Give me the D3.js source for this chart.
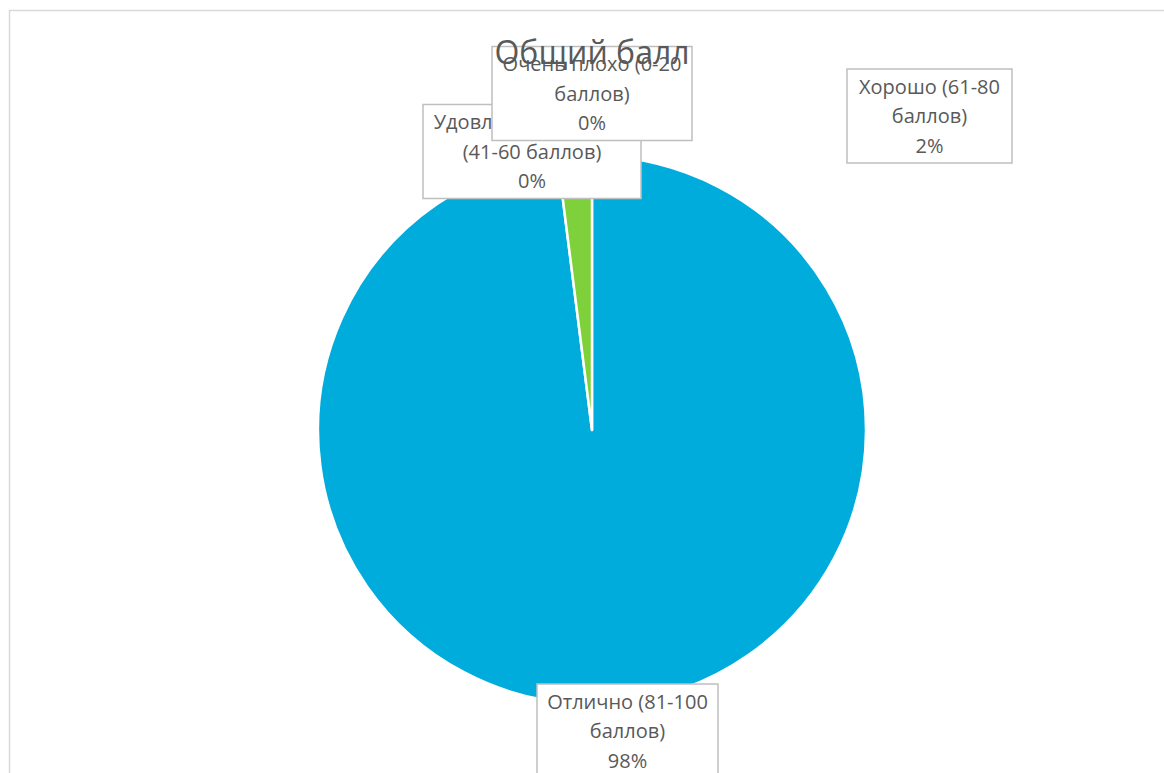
<!DOCTYPE html>
<html><head><meta charset="utf-8">
<script src="https://cdn.jsdelivr.net/npm/d3@7"></script>
<style>body{margin:0;background:#fff}svg{display:block}</style>
</head><body>
<svg id="c" width="1164" height="773"></svg>
<script>
const title = "Общий балл";
const categories = ["Отлично (81-100 баллов)", "Хорошо (61-80 баллов)", "Удовлетворительно (41-60 баллов)", "Очень плохо (0-20 баллов)"];
const labelLines = [["Отлично (81-100", "баллов)"], ["Хорошо (61-80", "баллов)"], ["Удовлетворительно", "(41-60 баллов)"], ["Очень плохо (0-20", "баллов)"]];
const values = [98, 2, 0, 0];
const colors = ["#00acdc", "#7fd13b", "#9d90a0", "#f0a22e"];
// label box layout relative to pie centre (layout only)
const labelLayout = [{dx: 35.5, dy: 301, w: 181}, {dx: 337.5, dy: -314, w: 165}, {dx: -60, dy: -278.5, w: 218}, {dx: 0, dy: -336.5, w: 200}];

const cx = 592, cy = 430, R = 274;
const svg = d3.select("#c");
svg.append("rect").attr("x", 9.5).attr("y", 10.5).attr("width", 1200).attr("height", 800)
  .attr("fill", "#fff").attr("stroke", "#d9d9d9").attr("stroke-width", 1.5);

const data = categories.map((c, i) => ({name: c, value: values[i], i}));
const total = d3.sum(values);
const pie = d3.pie().sort(null).value(d => d.value).startAngle(0).endAngle(2 * Math.PI);
const arcs = pie(data);
const arc = d3.arc().innerRadius(0).outerRadius(R);
const g = svg.append("g").attr("transform", `translate(${cx},${cy})`);
g.selectAll("path").data(arcs.filter(a => a.data.value > 0)).join("path")
  .attr("d", arc).attr("fill", d => colors[d.data.i])
  .attr("stroke", "#fff").attr("stroke-width", 2.5).attr("stroke-linejoin", "round");

const font = "'Open Sans', 'Noto Sans', sans-serif";
const fs = 20, lh = 29.5, bh = 94;
const labels = svg.append("g");
[2, 3, 1, 0].forEach(i => {
  const L = labelLayout[i];
  const lines = labelLines[i].concat([d3.format(".0%")(values[i] / total)]);
  const lg = labels.append("g").attr("transform", `translate(${cx + L.dx},${cy + L.dy})`);
  lg.append("rect").attr("x", -L.w / 2).attr("y", -bh / 2).attr("width", L.w).attr("height", bh)
    .attr("fill", "#fff").attr("stroke", "#bfbfbf").attr("stroke-width", 1.5);
  const t = lg.append("text").attr("text-anchor", "middle").attr("font-family", font)
    .attr("font-size", fs).attr("fill", "#595959");
  lines.forEach((s, k) => t.append("tspan").attr("x", 0).attr("y", (k - 1) * lh + 7).text(s));
});

svg.append("text").attr("x", cx).attr("y", 64).attr("text-anchor", "middle")
  .attr("font-family", font).attr("font-size", 32).attr("fill", "#595959").text(title);
</script>
</body></html>
